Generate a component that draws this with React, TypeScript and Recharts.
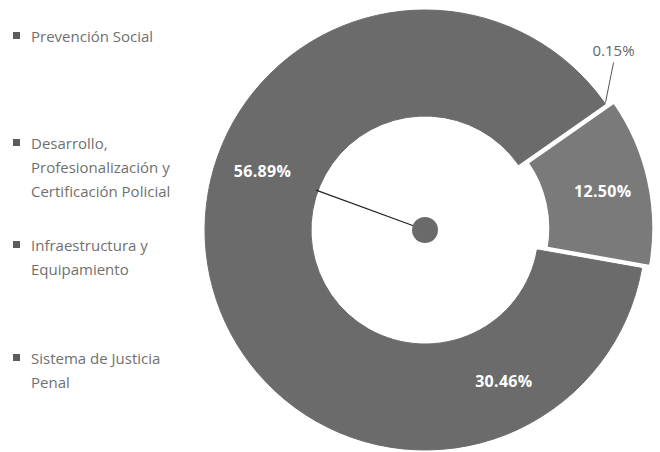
import { PieChart, Pie, Cell } from 'recharts';

// slices in clockwise drawing order
const categories = [
  'Desarrollo, Profesionalización y Certificación Policial',
  'Prevención Social',
  'Infraestructura y Equipamiento',
  'Sistema de Justicia Penal',
];
const shares = [56.89, 0.15, 12.5, 30.46];
const shareLabels = ['56.89%', '0.15%', '12.50%', '30.46%'];

// legend (as printed, top to bottom)
const legendLines = [
  ['Prevención Social'],
  ['Desarrollo,', 'Profesionalización y', 'Certificación Policial'],
  ['Infraestructura y', 'Equipamiento'],
  ['Sistema de Justicia', 'Penal'],
];

const EXPLODED = 2;

const data = categories.map((name, i) => ({ name, value: shares[i], label: shareLabels[i] }));

const CX = 425;
const CY = 230;
const INNER = 114;
const OUTER = 220;
const START = 240.3;
const OFFSET = 9;

const RAD = Math.PI / 180;
const total = shares.reduce((s, v) => s + v, 0);
const before = shares.slice(0, EXPLODED).reduce((s, v) => s + v, 0);
const explodeMid = START - (360 * (before + shares[EXPLODED] / 2)) / total;
const exCx = CX + OFFSET * Math.cos(explodeMid * RAD);
const exCy = CY - OFFSET * Math.sin(explodeMid * RAD);

const FONT = '"Open Sans", "DejaVu Sans", sans-serif';
const RING = '#6b6b6b';

function polar(cx: number, cy: number, r: number, angle: number) {
  return { x: cx + r * Math.cos(-angle * RAD), y: cy + r * Math.sin(-angle * RAD) };
}

function renderLabel(props: any, exploded: boolean) {
  const { cx, cy, midAngle, innerRadius, outerRadius, index } = props;
  if (exploded !== (index === EXPLODED)) return null;
  const item = data[index];

  if (index === 1) {
    // tiny slice: outside label with a leader line
    const p = polar(cx, cy, outerRadius + 1, midAngle);
    return (
      <g>
        <line x1={p.x} y1={p.y} x2={p.x + 8} y2={p.y - 40} stroke="#555" strokeWidth={1} />
        <text x={p.x + 8} y={p.y - 47} textAnchor="middle" fill="#666" fontSize={15} fontFamily={FONT}>
          {item.label}
        </text>
      </g>
    );
  }

  // labels sit a bit off the slice middle, as in the printed chart
  const angle = index === 0 ? midAngle + 22 : index === 3 ? midAngle + 2.5 : midAngle;
  const r = (innerRadius + outerRadius) / 2 + (index === 3 ? 3 : 6);
  const p = polar(cx, cy, r, angle);
  const text = (
    <text
      x={p.x}
      y={p.y}
      textAnchor="middle"
      dominantBaseline="central"
      fill="#fff"
      fontSize={16}
      fontWeight="bold"
      letterSpacing={0.3}
      fontFamily={FONT}
    >
      {item.label}
    </text>
  );
  if (index !== 0) return text;

  const q = polar(cx, cy, innerRadius + 2, angle);
  return (
    <g>
      <line x1={q.x} y1={q.y} x2={cx} y2={cy} stroke="#222" strokeWidth={1.2} />
      <circle cx={cx} cy={cy} r={13} fill="#6a6a6a" />
      {text}
    </g>
  );
}

const legendTops = [24, 131, 233, 346];

function LegendBox() {
  return (
    <div style={{ position: 'absolute', left: 0, top: 0, width: 200, height: 452, fontFamily: FONT }}>
      {legendLines.map((lines, i) => (
        <div key={i} style={{ position: 'absolute', left: 13, top: legendTops[i] }}>
          <span
            style={{
              position: 'absolute',
              left: 0,
              top: 8,
              width: 7,
              height: 7,
              background: '#5c5c5c',
            }}
          />
          <div style={{ marginLeft: 18, fontSize: 15, lineHeight: '24px', color: '#707070', whiteSpace: 'nowrap' }}>
            {lines.map((l) => (
              <div key={l}>{l}</div>
            ))}
          </div>
        </div>
      ))}
    </div>
  );
}

export default function App() {
  return (
    <div style={{ position: 'absolute', left: 0, top: 0, width: 660, height: 452, background: '#fff' }}>
      <PieChart width={660} height={452} margin={{ top: 0, right: 0, bottom: 0, left: 0 }}>
        <Pie
          data={data}
          dataKey="value"
          nameKey="name"
          cx={CX}
          cy={CY}
          innerRadius={INNER}
          outerRadius={OUTER}
          startAngle={START}
          endAngle={START - 360}
          labelLine={false}
          label={(p: any) => renderLabel(p, false)}
          isAnimationActive={false}
        >
          {data.map((d, i) => (
            <Cell
              key={d.name}
              fill={i === EXPLODED ? 'none' : RING}
              stroke={i === EXPLODED ? 'none' : RING}
              strokeWidth={1}
            />
          ))}
        </Pie>
        <Pie
          data={data}
          dataKey="value"
          nameKey="name"
          cx={exCx}
          cy={exCy}
          innerRadius={INNER}
          outerRadius={OUTER}
          startAngle={START}
          endAngle={START - 360}
          labelLine={false}
          label={(p: any) => renderLabel(p, true)}
          isAnimationActive={false}
        >
          {data.map((d, i) => (
            <Cell
              key={d.name}
              fill={i === EXPLODED ? '#7a7a7a' : 'none'}
              stroke={i === EXPLODED ? '#fff' : 'none'}
              strokeWidth={3}
            />
          ))}
        </Pie>
      </PieChart>
      <LegendBox />
    </div>
  );
}
